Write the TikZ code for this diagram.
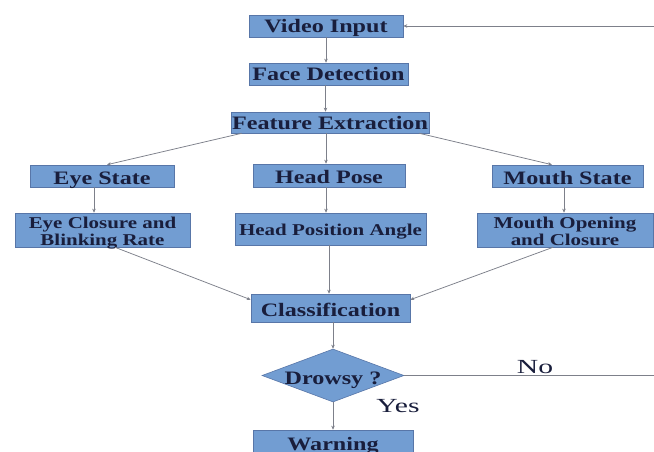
\documentclass[tikz,border=0pt]{standalone}
\usepackage{graphicx}
\usepackage{fontspec}
\setmainfont{Liberation Serif}
\usetikzlibrary{shapes.geometric,arrows.meta}
\definecolor{boxfill}{RGB}{114,157,210}
\definecolor{boxline}{RGB}{88,118,168}
\definecolor{txt}{RGB}{25,30,60}
\definecolor{conn}{RGB}{125,128,138}
\newcommand{\stx}[1]{\scalebox{1.27}[1]{#1}}
\newcommand{\twoline}[2]{\stx{\begin{tabular}[t]{@{}c@{}}#1\\#2\end{tabular}}}
\tikzset{
  box/.style={draw=boxline, line width=0.6pt, fill=boxfill, inner sep=0pt, text=txt,
    font=\bfseries\fontsize{19}{21}\selectfont, align=center, text depth=0pt},
  smallbox/.style={box, font=\bfseries\fontsize{16.5}{17}\selectfont},
  arr/.style={draw=conn, line width=0.75pt, -{Stealth[length=4pt,width=3.5pt]}},
  plain/.style={draw=conn, line width=0.75pt},
  lbl/.style={text=txt, inner sep=0pt, font=\fontsize{20}{22}\selectfont, text height=13pt, text depth=0pt}
}
\begin{document}
\begin{tikzpicture}[x=1pt,y=-1pt]
\useasboundingbox (0,0) rectangle (654,452);
\fill[white] (0,0) rectangle (654,452);

\node[box, minimum width=154pt, minimum height=22pt, text height=14pt] (vid) at (326,26) {\stx{Video Input}};
\node[box, minimum width=159pt, minimum height=22pt, text height=14pt] (face) at (328.5,74) {\stx{Face Detection}};
\node[box, minimum width=198pt, minimum height=21pt, text height=14pt] (feat) at (330,122.5) {\stx{Feature Extraction}};

\node[box, minimum width=144pt, minimum height=22pt, text height=16pt] (eye) at (102,176) {\stx{Eye State}};
\node[box, minimum width=152pt, minimum height=23pt, text height=15pt] (head) at (329,175.5) {\stx{Head Pose}};
\node[box, minimum width=151pt, minimum height=22pt, text height=16pt] (mouth) at (567.5,176) {\stx{Mouth State}};

\node[smallbox, minimum width=175pt, minimum height=34pt, text height=15pt, text depth=19pt] (eyec) at (102.5,230) {\twoline{Eye Closure and}{Blinking Rate}};
\node[smallbox, minimum width=191pt, minimum height=32pt, text height=12pt] (hpa) at (330.5,229) {\stx{Head Position Angle}};
\node[smallbox, minimum width=176pt, minimum height=34pt, text height=15pt, text depth=19pt] (mouc) at (565,230) {\twoline{Mouth Opening}{and Closure}};

\node[box, minimum width=159pt, minimum height=28pt, text height=16pt] (cls) at (330.5,308) {\stx{Classification}};
\node[diamond, draw=boxline, line width=0.6pt, fill=boxfill, inner sep=0pt,
      minimum width=142pt, minimum height=53pt] (dec) at (333,375.5) {};
\node[text=txt, inner sep=0pt, font=\bfseries\fontsize{19}{21}\selectfont, text height=13pt, text depth=0pt] (dect) at (333,377.5) {\stx{Drowsy ?}};
\node[box, minimum width=160pt, minimum height=34pt, text height=13pt, text depth=7pt] (warn) at (333,447) {\stx{Warning}};

\node[lbl] (no) at (535,366.5) {\scalebox{1.48}[1]{No}};
\node[lbl] (yes) at (398,406) {\scalebox{1.48}[1]{Yes}};

\coordinate (rb) at (654,375.5);
\coordinate (rt) at (654,26);

% main chain
\draw[arr] (vid.south) -- (vid.south |- face.north);
\draw[arr] ([xshift=-3pt]face.south) -- ([xshift=-3pt]face.south |- feat.north);
\draw[arr] ([xshift=11pt]feat.south west) -- ([xshift=5pt]eye.north);
\draw[arr] ([xshift=-4pt]feat.south) -- ([xshift=-4pt]feat.south |- head.north);
\draw[arr] ([xshift=-10pt]feat.south east) -- ([xshift=-15.5pt]mouth.north);

\draw[arr] ([xshift=-8pt]eye.south) -- ([xshift=-8pt]eye.south |- eyec.north);
\draw[arr] ([xshift=-3pt]head.south) -- ([xshift=-3pt]head.south |- hpa.north);
\draw[arr] ([xshift=-3.5pt]mouth.south) -- ([xshift=-3.5pt]mouth.south |- mouc.north);

\draw[arr] ([xshift=12.5pt]eyec.south) -- ([yshift=-6pt]cls.north west);
\draw[arr] ([xshift=-1.5pt]hpa.south) -- ([xshift=-1.5pt]hpa.south |- cls.north);
\draw[arr] ([xshift=-12pt]mouc.south) -- ([yshift=-6pt]cls.north east);

\draw[arr] (cls.south -| dec.north) -- (dec.north);
\draw[arr] (dec.south) -- (dec.south |- warn.north);

\draw[plain] (dec.east) -- (rb);
\draw[arr] (rt) -- (vid.east);
\end{tikzpicture}
\end{document}
